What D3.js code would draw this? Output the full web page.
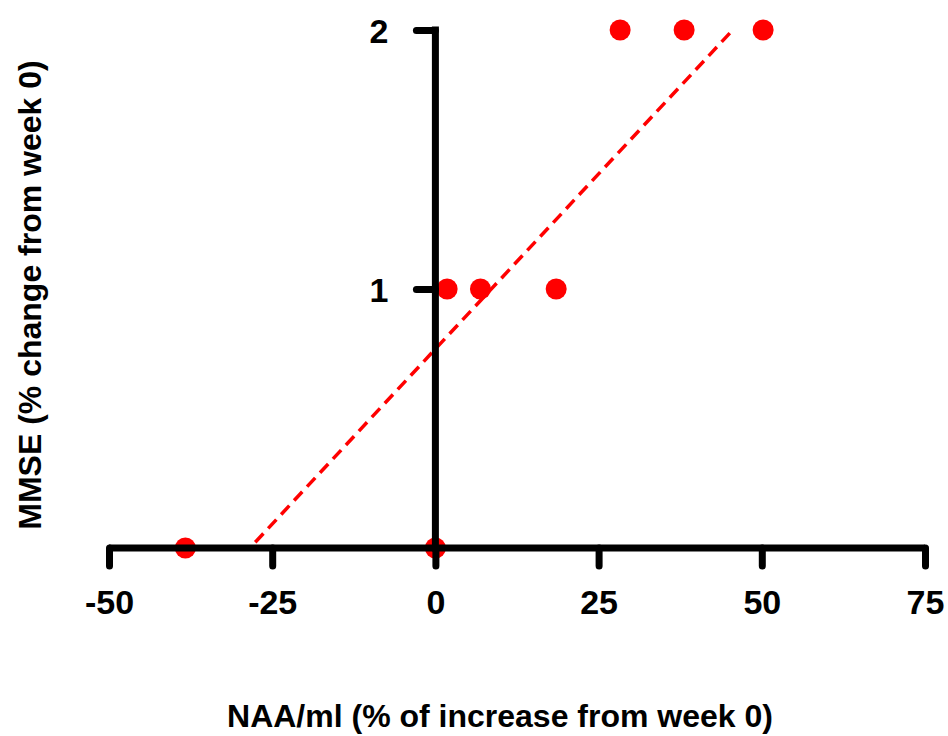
<!DOCTYPE html>
<html>
<head>
<meta charset="utf-8">
<script src="https://cdn.jsdelivr.net/npm/d3@7"></script>
<style>
  html, body { margin: 0; padding: 0; background: #fff; }
  svg { display: block; }
  text { font-family: "Liberation Sans", Arial, Helvetica, sans-serif; font-weight: bold; fill: #000; }
</style>
</head>
<body>
<svg id="chart" width="948" height="736"></svg>
<script>
// ---- data ----
const naaChange = [-38.3, 0, 1.8, 6.9, 18.5, 28.3, 38.1, 50.2];
const mmseChange = [0, 0, 1, 1, 1, 2, 2, 2];
const xTicks = [-50, -25, 0, 25, 50, 75];
const yTicks = [1, 2];
const fitRange = [-27.6, 45.5];
const xTitle = "NAA/ml (% of increase from week 0)";
const yTitle = "MMSE (% change from week 0)";

const svg = d3.select("#chart");
const x = d3.scaleLinear().domain([-50, 75]).range([109, 925]);
const y = d3.scaleLinear().domain([0, 2]).range([548, 30]);

// regression fit (least squares) from the data
const mx = d3.mean(naaChange), my = d3.mean(mmseChange);
let sxy = 0, sxx = 0;
naaChange.forEach((v, i) => { sxy += (v - mx) * (mmseChange[i] - my); sxx += (v - mx) * (v - mx); });
const slope = sxy / sxx, icpt = my - slope * mx;

const fmt = d => String(d); // plain hyphen minus

// fit line
svg.append("line")
  .attr("x1", x(fitRange[0])).attr("y1", y(slope * fitRange[0] + icpt))
  .attr("x2", x(fitRange[1])).attr("y2", y(slope * fitRange[1] + icpt))
  .attr("stroke", "#ff0000").attr("stroke-width", 3.5).attr("stroke-dasharray", "12,7");

// points (drawn beneath the axes)
svg.append("g").selectAll("circle").data(naaChange).join("circle")
  .attr("cx", d => x(d)).attr("cy", (d, i) => y(mmseChange[i])).attr("r", 10.5)
  .attr("fill", "#ff0000");

// axes
const xAxis = d3.axisBottom(x).tickValues(xTicks).tickSize(18).tickPadding(24).tickFormat(fmt);
const yAxis = d3.axisLeft(y).tickValues(yTicks).tickSize(19).tickPadding(28).tickFormat(fmt);

const gx = svg.append("g").attr("transform", `translate(0,${y(0)})`).call(xAxis);
const gy = svg.append("g").attr("transform", `translate(${x(0)},0)`).call(yAxis);

[gx, gy].forEach(g => {
  g.select(".domain").remove();
  g.selectAll(".tick line").attr("stroke", "#000").attr("stroke-width", 7).attr("stroke-linecap", "round");
  g.selectAll(".tick text").style("font-size", "34px").attr("fill", "#000");
});
gx.selectAll(".tick text").attr("dy", "0.71em");
gy.selectAll(".tick text").attr("dy", "0.36em");

// axis lines
svg.append("line").attr("x1", x(-50)).attr("x2", x(75)).attr("y1", y(0)).attr("y2", y(0))
  .attr("stroke", "#000").attr("stroke-width", 7);
svg.append("line").attr("x1", x(0)).attr("x2", x(0)).attr("y1", y(0)).attr("y2", y(2))
  .attr("stroke", "#000").attr("stroke-width", 7).attr("stroke-linecap", "square");

// titles
svg.append("text").attr("x", 500).attr("y", 727).attr("text-anchor", "middle")
  .style("font-size", "32px").text(xTitle);
svg.append("text").attr("transform", "translate(41,295) rotate(-90)").attr("text-anchor", "middle")
  .style("font-size", "32px").text(yTitle);
</script>
</body>
</html>
